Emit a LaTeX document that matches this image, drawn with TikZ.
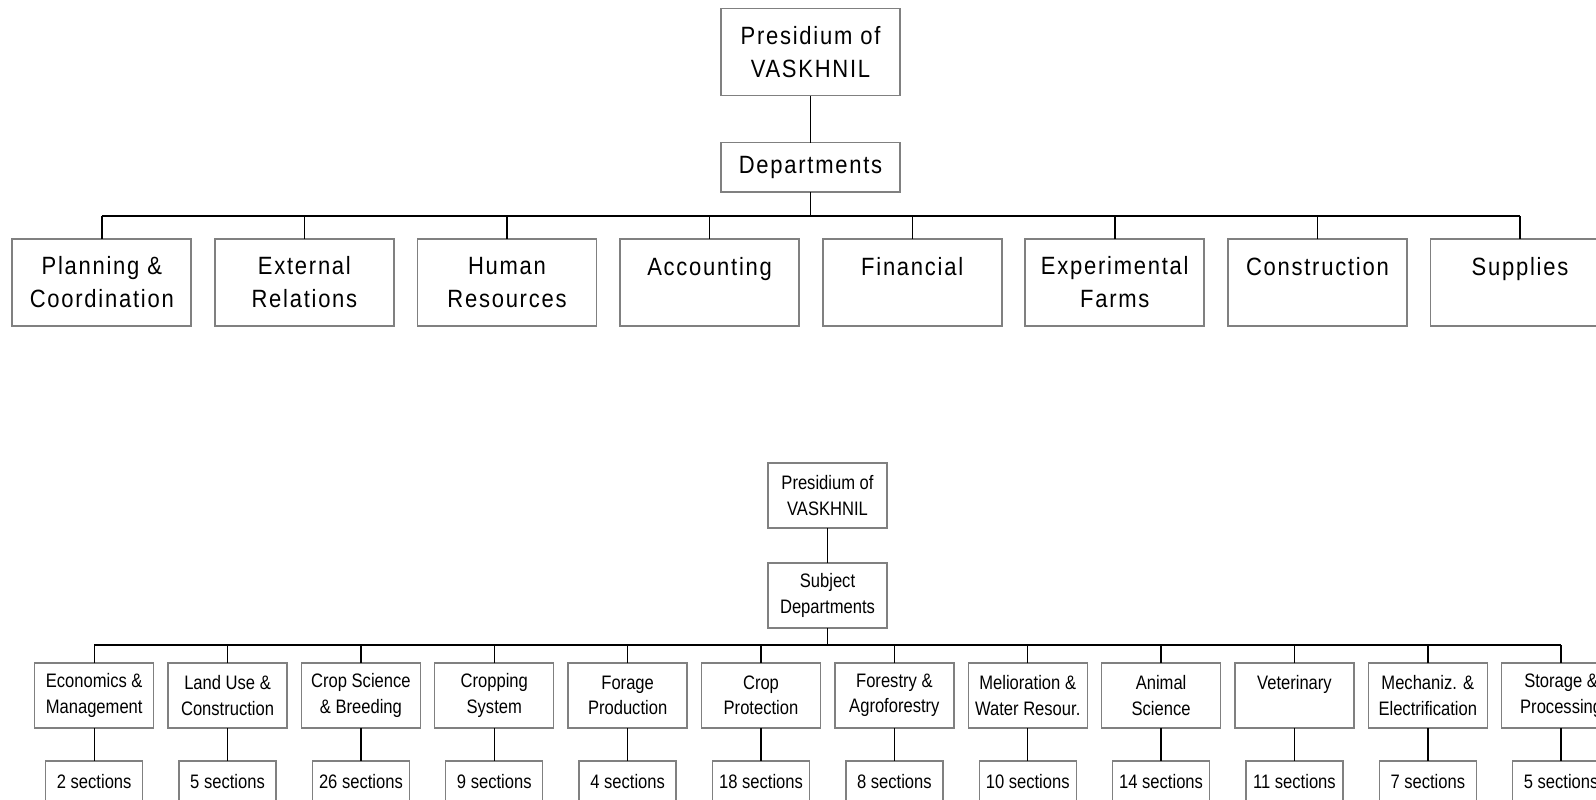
\documentclass[tikz,border=0pt]{standalone}
\usepackage{fontspec}
\setmainfont{Liberation Sans}[FakeStretch=0.85]
\newfontfamily\bigfont{Liberation Sans}[FakeStretch=0.88,LetterSpace=7]
\usetikzlibrary{positioning}

\begin{document}
\begin{tikzpicture}[x=0.5pt,y=-0.5pt,
    bigbox/.style={draw=black!50, line width=0.9pt, inner sep=0pt, outer sep=0pt, align=center,
        minimum width=89.5pt, minimum height=43.5pt, font=\bigfont\fontsize{12.5}{16.5}\selectfont},
    smallbox/.style={draw=black!50, line width=0.7pt, inner sep=0pt, outer sep=0pt, align=center,
        minimum width=59.5pt, minimum height=32.5pt, font=\fontsize{9.75}{12.75}\selectfont},
    secbox/.style={smallbox, minimum width=48.5pt, minimum height=21pt},
    link/.style={black, line width=0.7pt}]
    \useasboundingbox (0,0) rectangle (1596,799);
    \clip (0,0) rectangle (1596,799);

    % Organigrama administrativo
    \node[bigbox] (pres) at (810.5,52) {Presidium of\\VASKHNIL};
    \node[bigbox, minimum height=24.75pt] (dept) at (810.5,167.25) {Departments};
    \coordinate (bus) at (0,216);

    \node[bigbox] (plan) at (101.8,282.5) {Planning \&\\Coordination};
    \node[bigbox, right=11.8pt of plan] (ext) {External\\Relations};
    \node[bigbox, right=11.8pt of ext] (hum) {Human\\Resources};
    \node[bigbox, right=11.8pt of hum] (acc) {Accounting\\~};
    \node[bigbox, right=11.8pt of acc] (fin) {Financial\\~};
    \node[bigbox, right=11.8pt of fin] (farm) {Experimental\\Farms};
    \node[bigbox, right=11.8pt of farm] (cons) {Construction\\~};
    \node[bigbox, right=11.8pt of cons] (supp) {Supplies\\~};

    % Lineas
    \draw[link] (pres) -- (dept);
    \draw[link] (dept.south) -- (dept.south |- bus);
    \draw[link] (plan.north |- bus) -- (supp.north |- bus);
    \foreach \n in {plan,ext,hum,acc,fin,farm,cons,supp}
        \draw[link] (\n.north) -- (\n.north |- bus);

    % Organigrama por materias
    \node[smallbox] (pres2) at (827.5,495.5) {Presidium of\\VASKHNIL};
    \node[smallbox] (subj) at (827.5,595.5) {Subject\\Departments};
    \coordinate (bus2) at (0,645);

    \node[smallbox] (eco) at (94.2,695.5) {Economics \&\\Management};
    \node[smallbox, right=7.18pt of eco] (land) {Land Use \&\\Construction};
    \node[smallbox, right=7.18pt of land] (crop) {Crop Science\\\& Breeding};
    \node[smallbox, right=7.18pt of crop] (csys) {Cropping\\System};
    \node[smallbox, right=7.18pt of csys] (forage) {Forage\\Production};
    \node[smallbox, right=7.18pt of forage] (prot) {Crop\\Protection};
    \node[smallbox, right=7.18pt of prot] (forest) {Forestry \&\\Agroforestry};
    \node[smallbox, right=7.18pt of forest] (melio) {Melioration \&\\Water Resour.};
    \node[smallbox, right=7.18pt of melio] (anim) {Animal\\Science};
    \node[smallbox, right=7.18pt of anim] (vet) {Veterinary\\~};
    \node[smallbox, right=7.18pt of vet] (mech) {Mechaniz. \&\\Electrification};
    \node[smallbox, right=7.18pt of mech] (store) {Storage \&\\Processing};

    % Secciones
    \foreach \n/\s in {eco/2,land/5,crop/26,csys/9,forage/4,prot/18,forest/8,
                       melio/10,anim/14,vet/11,mech/7,store/5}
        \node[secbox, below=16.5pt of \n] (\n-sec) {\s\ sections};

    % Lineas
    \draw[link] (pres2) -- (subj);
    \draw[link] (subj.south) -- (subj.south |- bus2);
    \draw[link] (eco.north |- bus2) -- (store.north |- bus2);
    \foreach \n in {eco,land,crop,csys,forage,prot,forest,melio,anim,vet,mech,store} {
        \draw[link] (\n.north) -- (\n.north |- bus2);
        \draw[link] (\n) -- (\n-sec);
    }
\end{tikzpicture}
\end{document}
